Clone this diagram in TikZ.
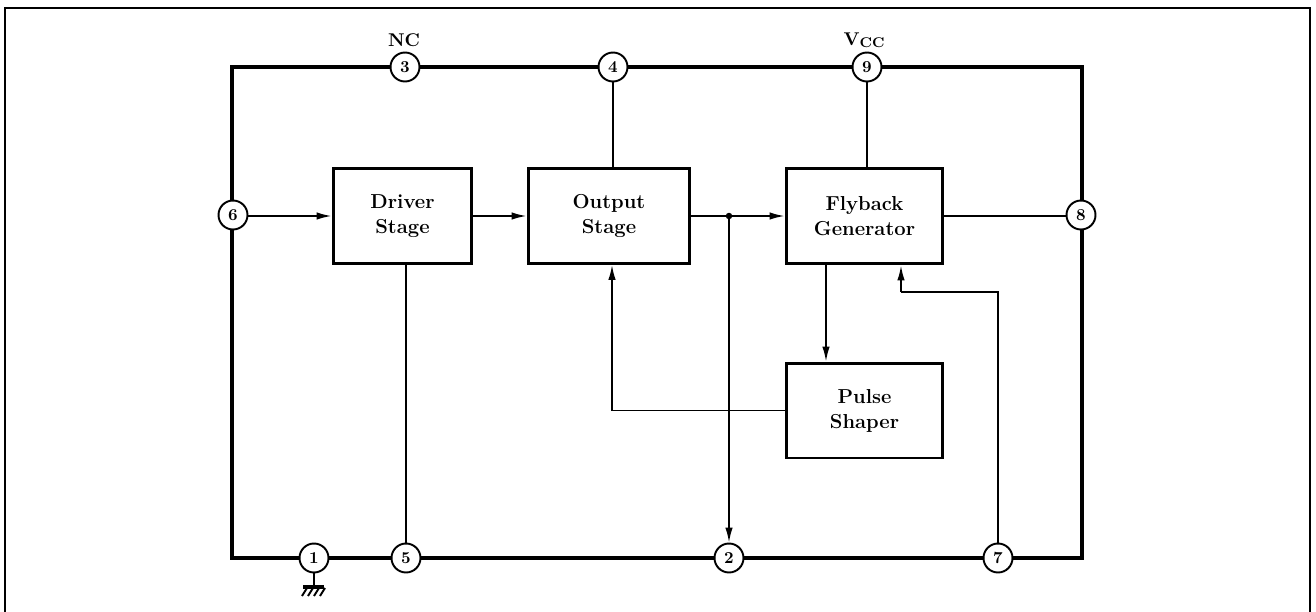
\documentclass[tikz,border=0pt]{standalone}
\usetikzlibrary{arrows.meta}
\begin{document}
\begin{tikzpicture}[x=0.02cm,y=-0.02cm,
  frame/.style={line width=0.8pt},
  ic/.style={line width=2.3pt,line join=miter},
  blk/.style={draw,line width=1.7pt,align=center,inner sep=0pt,
    font=\bfseries\fontsize{11.5}{14.2}\selectfont},
  pin/.style={circle,draw,fill=white,line width=1.1pt,minimum size=0.58cm,
    inner sep=0pt,font=\bfseries\fontsize{9.5}{9.5}\selectfont},
  wire/.style={line width=0.95pt},
  arr/.style={wire,-{Latex[length=3mm,width=1.5mm]}},
  lbl/.style={font=\bfseries\fontsize{10.5}{10.5}\selectfont,inner sep=0pt},
  dot/.style={circle,fill,inner sep=0pt,minimum size=0.13cm}
]
\useasboundingbox (0,0) rectangle (1316,612);
% page frame (open at the bottom)
\draw[frame] (5,612) -- (5,8) -- (1310,8) -- (1310,612);
% IC outline
\draw[ic] (232,67) rectangle (1082,558);

% blocks
\node[blk,minimum width=2.78cm,minimum height=1.9cm] (drv) at (402.5,216) {Driver\\Stage};
\node[blk,minimum width=3.24cm,minimum height=1.9cm] (out) at (609,216) {Output\\Stage};
\node[blk,minimum width=3.14cm,minimum height=1.92cm] (fly) at (864.5,216) {Flyback\\Generator};
\node[blk,minimum width=3.14cm,minimum height=1.9cm] (pls) at (864.5,410.5) {Pulse\\Shaper};

% helper coordinates
\coordinate (j) at (729,216);
\coordinate (fx) at (826,0);
\coordinate (kx) at (901,292);
\coordinate (qx) at (612,0);
\coordinate (g) at (314,585);

% pins
\node[pin] (p3) at (405,67) {3};
\node[pin] (p4) at (613,67) {4};
\node[pin] (p9) at (867,67) {9};
\node[pin] (p6) at (233,215) {6};
\node[pin] (p8) at (1081,215) {8};
\node[pin] (p1) at (314,558) {1};
\node[pin] (p5) at (406,558) {5};
\node[pin] (p2) at (729,558) {2};
\node[pin] (p7) at (998,558) {7};

% wires
\draw[wire] (p4) -- (p4 |- out.north);
\draw[wire] (p9) -- (p9 |- fly.north);
\draw[wire] (p5) -- (p5 |- drv.south);
\draw[wire] (fly.east) -- (p8.west |- fly.east);
\draw[wire] (p7) |- (kx);
\draw[arr] (kx) -- (kx |- fly.south);
\draw[arr] (fly.south -| fx) -- (pls.north -| fx);
\draw[arr] (pls.west) -| (qx |- out.south);
\draw[arr] (p6.east |- drv.west) -- (drv.west);
\draw[arr] (drv.east) -- (out.west);
\draw[wire] (out.east) -- (j);
\draw[arr] (j) -- (fly.west);
\draw[arr] (j) -- (p2);
\node[dot] (jd) at (j) {};

% ground on pin 1
\draw[wire] (p1) -- (g);
\draw[line width=2.2pt] (303,587) -- (324,587);
\foreach \xx in {307,313,319,325}
  \draw[line width=1.1pt] (\xx,588) -- (\xx-5,596);

% pin labels
\node[lbl] (nc) at (404,40) {NC};
\node[lbl] (vcc) at (864,40) {V\raisebox{-0.3ex}{\fontsize{8}{8}\selectfont CC}};
\end{tikzpicture}
\end{document}
